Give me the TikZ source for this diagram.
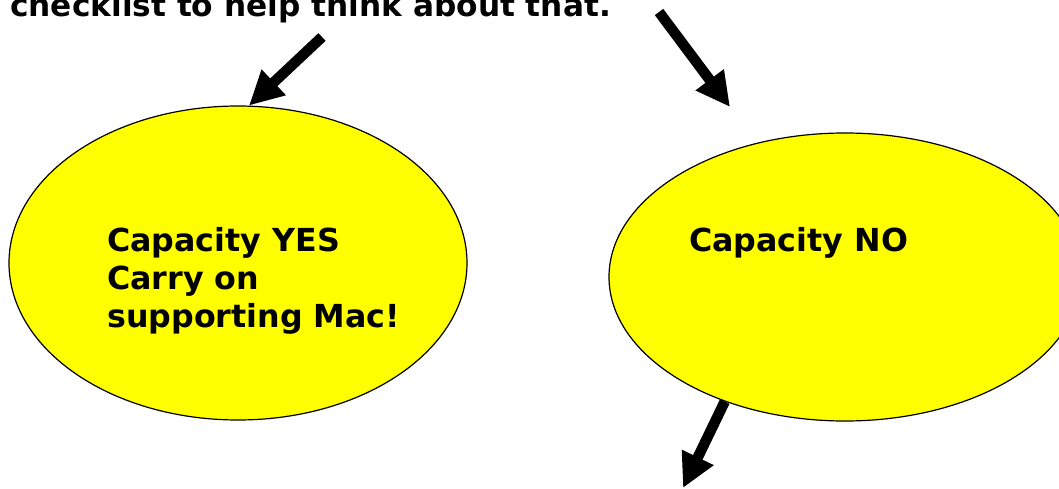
\documentclass[tikz,border=0pt]{standalone}
\usepackage{fontspec}
\setmainfont{DejaVu Sans}
\usetikzlibrary{positioning,arrows.meta,shapes.geometric}
\definecolor{bubbleyellow}{RGB}{255,255,0}

\begin{document}
\begin{tikzpicture}[x=1pt,y=-1pt,
  bubble/.style={ellipse,draw,fill=bubbleyellow,line width=1.2pt,inner sep=0pt},
  words/.style={inner sep=0pt,anchor=base west,align=left,font=\fontsize{31.7}{38}\selectfont\bfseries},
  blockarrow/.style={line width=10.5pt,-{Triangle[length=34pt,width=33pt]}}]
\useasboundingbox (0,0) rectangle (1059,489) ;

\node[words,font=\fontsize{31.2}{38}\selectfont\bfseries] (intro) at (10,17) {checklist to help think about that.} ;

\node[bubble,minimum width=458pt,minimum height=314pt] (yes) at (238,263) {} ;
\node[bubble,minimum width=472pt,minimum height=288pt] (no) at (845,277) {} ;

% last line sits on the base anchor
\node[words] (yestext) at (107,327) {Capacity YES\\Carry on\\supporting Mac!} ;
\node[words] (notext) at (689,251) {Capacity NO} ;

\coordinate (tailyes) at (322,37) ;
\coordinate (tailno) at (659,12) ;
\coordinate (tipno) at (730,107) ;
\coordinate (tipdown) at (683,488) ;

\draw[blockarrow] (tailyes) -- (yes.86) ;
\draw[blockarrow] (tailno) -- (tipno) ;
\draw[blockarrow] (no.226) -- (tipdown) ;

\end{tikzpicture}
\end{document}
